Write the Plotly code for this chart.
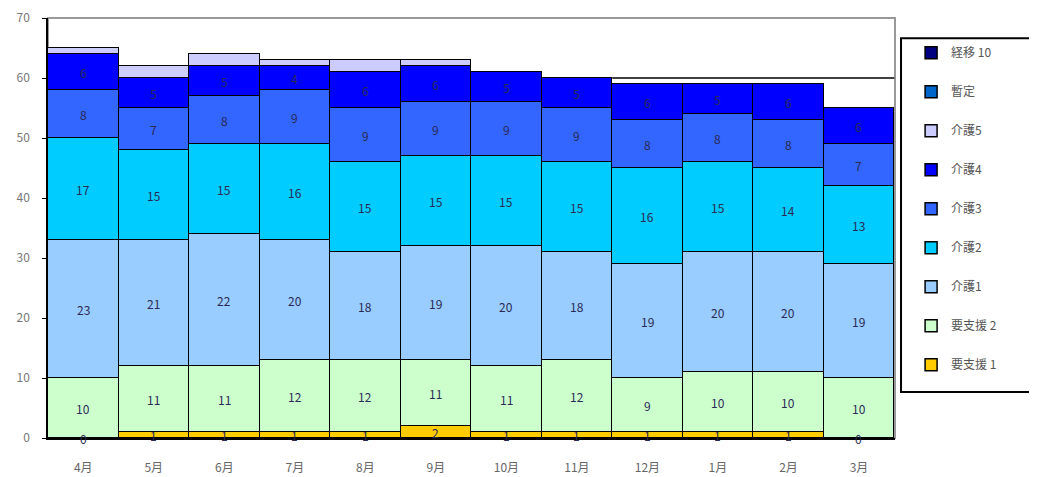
import plotly.graph_objects as go
import numpy as np

months = ["4月", "5月", "6月", "7月", "8月", "9月", "10月", "11月", "12月", "1月", "2月", "3月"]

yoshien1 = [0, 1, 1, 1, 1, 2, 1, 1, 1, 1, 1, 0]
yoshien2 = [10, 11, 11, 12, 12, 11, 11, 12, 9, 10, 10, 10]
kaigo1 = [23, 21, 22, 20, 18, 19, 20, 18, 19, 20, 20, 19]
kaigo2 = [17, 15, 15, 16, 15, 15, 15, 15, 16, 15, 14, 13]
kaigo3 = [8, 7, 8, 9, 9, 9, 9, 9, 8, 8, 8, 7]
kaigo4 = [6, 5, 5, 4, 6, 6, 5, 5, 6, 5, 6, 6]
kaigo5 = [1, 2, 2, 1, 2, 1, 0, 0, 0, 0, 0, 0]
zantei = [0] * 12
keii10 = [0] * 12

series = [
    ("要支援 1", yoshien1, "#FFCC00", True),
    ("要支援 2", yoshien2, "#CCFFCC", True),
    ("介護1", kaigo1, "#99CCFF", True),
    ("介護2", kaigo2, "#00CCFF", True),
    ("介護3", kaigo3, "#3366FF", True),
    ("介護4", kaigo4, "#0000FF", True),
    ("介護5", kaigo5, "#CCCCFF", False),
    ("暫定", zantei, "#0066CC", False),
    ("経移 10", keii10, "#000080", False),
]

font_family = "Noto Sans CJK JP, Noto Sans, sans-serif"
fig = go.Figure()
annotations = []
base = np.zeros(len(months))
n = len(series)
for i, (name, vals, color, labeled) in enumerate(series):
    v = np.array(vals, dtype=float)
    fig.add_trace(go.Bar(
        x=months, y=vals, name=name, legendgroup=f"g{i}",
        legendrank=100 + (n - i),
        marker=dict(color=color, line=dict(color="#000000", width=1.5)),
        hoverinfo="x+y+name",
    ))
    if labeled:
        for m, b, val in zip(months, base, v):
            annotations.append(dict(
                x=m, y=b + val / 2, text=str(int(val)), showarrow=False,
                xref="x", yref="y",
                font=dict(size=12, color="#2a2a55", family=font_family),
            ))
    base = base + v

# page body has an 8px margin; figure sized so plot area matches the reference
fig.update_layout(
    barmode="stack",
    bargap=0,
    width=1029, height=469,
    margin=dict(l=40, r=142, t=10, b=39, autoexpand=False),
    plot_bgcolor="#FFFFFF",
    paper_bgcolor="#FFFFFF",
    font=dict(family=font_family, size=12, color="#666666"),
    annotations=annotations,
    showlegend=True,
    legend=dict(
        traceorder="grouped",
        tracegroupgap=20,
        x=1.019, xanchor="left", y=0.952, yanchor="top",
        borderwidth=0,
        bgcolor="rgba(0,0,0,0)",
        font=dict(size=12, color="#555555", family=font_family),
        itemwidth=30,
    ),
    shapes=[
        dict(type="rect", xref="paper", yref="paper", x0=0, x1=1, y0=0, y1=1,
             line=dict(color="#999999", width=2), layer="below"),
        dict(type="line", xref="x", yref="y", x0=7.5, x1=11.5, y0=60, y1=60,
             line=dict(color="#000000", width=1.5)),
        dict(type="rect", xref="paper", yref="paper", x0=1.0071, x1=1.18,
             y0=0.1095, y1=0.952, line=dict(color="#000000", width=2),
             fillcolor="rgba(0,0,0,0)", layer="below"),
    ],
)
fig.update_xaxes(
    showline=True, linecolor="#000000", linewidth=1.5,
    ticks="", showgrid=False, ticklabelstandoff=18, automargin=False,
    tickfont=dict(size=12, color="#666666"),
)
fig.update_yaxes(
    range=[0, 70], dtick=10, showline=True, linecolor="#000000", linewidth=1.5,
    ticks="outside", ticklen=4, tickcolor="#000000", showgrid=False,
    tickfont=dict(size=12, color="#777777"), ticklabelstandoff=10,
    zeroline=False, automargin=False,
)

fig.write_html("out.html")
